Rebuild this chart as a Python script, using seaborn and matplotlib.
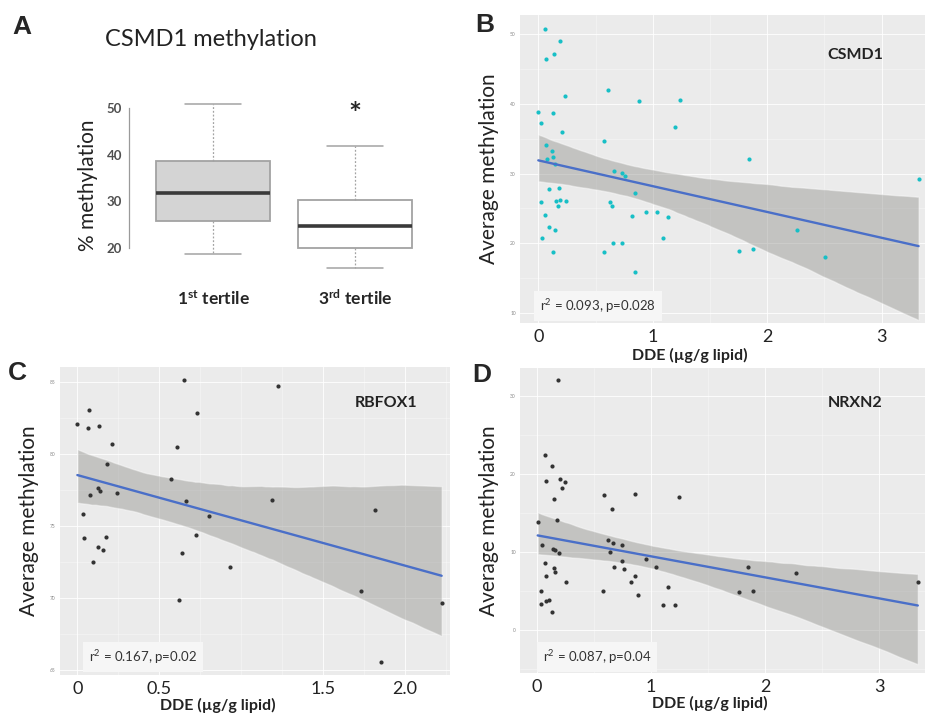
import matplotlib
matplotlib.use("Agg")
import matplotlib.pyplot as plt
from matplotlib.ticker import AutoMinorLocator
import numpy as np
import pandas as pd
import seaborn as sns

# panel A: five-number summaries (min, q1, median, q3, max)
tertile_labels = [r"1$^{\mathbf{st}}$ tertile", r"3$^{\mathbf{rd}}$ tertile"]
tertile1 = [18.6, 25.8, 31.7, 38.6, 50.8]
tertile3 = [15.8, 19.9, 24.7, 30.3, 41.9]

# panel B: CSMD1
csmd1_dde = [0.058, 0.190, 0.137, 0.067, 0.233, 0.609, 0.880, 1.239, 0.0, 0.128,
             0.026, 1.195, 0.207, 0.574, 0.067, 0.122, 0.128, 0.073, 0.146, 1.843,
             0.665, 0.735, 0.755, 3.324, 0.090, 0.178, 0.845, 0.026, 0.190, 0.152,
             0.242, 0.169, 0.624, 0.644, 0.055, 0.816, 0.945, 1.035, 1.137, 0.093,
             0.143, 2.259, 0.032, 1.093, 0.656, 0.732, 0.125, 0.574, 1.755, 1.878,
             2.504, 0.845]
csmd1_meth = [50.76, 49.08, 47.26, 46.40, 41.13, 41.99, 40.41, 40.56, 38.83, 38.69,
              37.30, 36.68, 35.91, 34.62, 34.09, 33.18, 32.32, 32.03, 31.36, 32.08,
              30.40, 30.02, 29.68, 29.20, 27.77, 27.86, 27.15, 25.85, 26.24, 26.04,
              26.09, 25.33, 25.90, 25.28, 24.08, 23.94, 24.46, 24.42, 23.70, 22.36,
              21.93, 21.88, 20.73, 20.68, 20.06, 20.06, 18.76, 18.76, 18.91, 19.10,
              17.95, 15.89]

# panel C: RBFOX1
rbfox1_dde = [0.649, 1.223, 0.071, 0.728, 0.0, 0.065, 0.130, 0.210, 0.606, 0.183,
              0.570, 0.124, 0.138, 0.077, 0.244, 0.661, 1.186, 1.819, 0.806, 0.035,
              0.039, 0.173, 0.724, 0.126, 0.155, 0.639, 0.096, 0.932, 1.729, 0.623,
              2.224, 1.851]
rbfox1_meth = [85.12, 84.70, 83.08, 82.85, 82.06, 81.81, 81.97, 80.70, 80.45, 79.29,
               78.23, 77.65, 77.44, 77.14, 77.28, 76.72, 76.79, 76.10, 75.71, 75.82,
               74.18, 74.23, 74.34, 73.53, 73.35, 73.12, 72.51, 72.14, 70.50, 69.83,
               69.67, 65.58]

# panel D: NRXN2
nrxn2_dde = [0.190, 0.073, 0.134, 0.079, 0.201, 0.248, 0.219, 0.149, 0.590, 0.858,
             1.250, 0.657, 0.009, 0.178, 0.044, 0.140, 0.158, 0.199, 0.622, 0.666,
             0.747, 0.639, 0.745, 0.955, 0.677, 0.768, 1.045, 1.854, 0.070, 0.079,
             0.155, 0.164, 2.272, 0.257, 0.829, 0.858, 3.337, 0.038, 0.584, 1.769,
             1.895, 1.150, 0.891, 0.041, 0.085, 0.108, 1.109, 1.215, 0.134]
nrxn2_meth = [32.05, 22.44, 20.94, 19.02, 19.32, 18.93, 18.16, 16.75, 17.31, 17.39,
              17.01, 15.51, 13.80, 14.10, 10.90, 10.34, 10.26, 9.83, 11.50, 11.07,
              10.85, 9.91, 8.76, 9.06, 8.08, 7.82, 8.08, 7.99, 8.50, 6.88,
              7.86, 7.35, 7.31, 6.07, 6.07, 6.88, 6.07, 4.96, 4.96, 4.79,
              4.96, 5.51, 4.44, 3.29, 3.63, 3.76, 3.16, 3.16, 2.31]

sns.set_style("white")
plt.rcParams["font.family"] = ["Lato", "DejaVu Sans"]
plt.rcParams["mathtext.fontset"] = "custom"
plt.rcParams["mathtext.rm"] = "Lato"
plt.rcParams["mathtext.bf"] = "Lato:bold"
plt.rcParams["mathtext.it"] = "Lato:italic"

W, H = 925, 715
fig = plt.figure(figsize=(W / 100, H / 100), dpi=100)
fig.patch.set_facecolor("white")


def box(l, t, r, b):
    return [l / W, 1 - b / H, (r - l) / W, (b - t) / H]


def ftext(x, y, s, **kw):
    fig.text(x / W, 1 - y / H, s, **kw)


# ---- A: boxplot
axA = fig.add_axes(box(129, 95, 440, 275))
dfA = pd.DataFrame({
    "group": [tertile_labels[0]] * len(tertile1) + [tertile_labels[1]] * len(tertile3),
    "value": tertile1 + tertile3,
})
sns.boxplot(data=dfA, x="group", y="value", hue="group", palette=["#d4d4d4", "white"],
            legend=False, width=0.8, linecolor="#a3a3a3", linewidth=1.3, whis=1.5,
            medianprops=dict(color="#3a3a3a", linewidth=2.6),
            whiskerprops=dict(linestyle=(0, (1.5, 1.5)), linewidth=0.9),
            capprops=dict(linewidth=1.1), ax=axA)
axA.set_xlim(-0.593, 1.60)
axA.set_ylim(14.2, 52.8)
axA.set_yticks([20, 30, 40, 50])
for s in ["top", "right", "bottom"]:
    axA.spines[s].set_visible(False)
axA.spines["left"].set_bounds(20, 50)
axA.spines["left"].set_color("#9a9a9a")
axA.spines["left"].set_linewidth(0.9)
axA.tick_params(axis="y", length=3, width=0.8, color="#9a9a9a", labelsize=9.5,
                labelcolor="#505050", pad=2)
for lab in axA.get_yticklabels():
    lab.set_fontweight("bold")
axA.tick_params(axis="x", length=0, pad=10, labelsize=12.5)
for lab in axA.get_xticklabels():
    lab.set_fontweight("bold")
axA.set_xlabel("")
axA.set_ylabel("% methylation", fontsize=15, color="#222222", labelpad=6)
axA.text(1, 48.5, "*", ha="center", va="center", fontsize=22, fontweight="bold")
ftext(105, 40, "CSMD1 methylation", fontsize=17, color="#222222", va="center")


# ---- B, C, D: ggplot-like scatter with linear fit
def scatter_panel(rect, x, y, color, xlim, ylim, xticks, xticklabels, yticks,
                  gene, gene_xy, stat, stat_xy):
    ax = fig.add_axes(rect)
    ax.set_facecolor("#ebebeb")
    sns.regplot(x=np.array(x), y=np.array(y), ax=ax, color=color, ci=95,
                n_boot=2000, seed=3,
                scatter_kws=dict(s=9, linewidths=0, alpha=1, zorder=3),
                line_kws=dict(color="#4a6fc8", lw=1.7, zorder=4))
    band = ax.collections[-1]
    band.set_facecolor("#8c8c88")
    band.set_alpha(0.42)
    band.set_zorder(2)
    ax.set_xlim(*xlim)
    ax.set_ylim(*ylim)
    ax.set_xticks(xticks)
    ax.set_xticklabels(xticklabels)
    ax.set_yticks(yticks)
    ax.xaxis.set_minor_locator(AutoMinorLocator(2))
    ax.yaxis.set_minor_locator(AutoMinorLocator(2))
    ax.set_axisbelow(True)
    ax.grid(which="major", color="white", lw=0.8, alpha=0.85)
    ax.grid(which="minor", color="white", lw=0.4, alpha=0.6)
    for s in ax.spines.values():
        s.set_visible(False)
    ax.tick_params(axis="x", which="both", length=0, labelsize=13, labelcolor="#222222", pad=4)
    ax.tick_params(axis="y", which="major", length=2, width=0.6, color="#999999",
                   labelsize=3.5, labelcolor="#8a8a8a", pad=1)
    ax.tick_params(axis="y", which="minor", length=0)
    ax.set_xlabel("")
    ax.set_ylabel("Average methylation", fontsize=15, color="#222222", labelpad=8)
    ftext(gene_xy[0], gene_xy[1], gene, fontsize=11.5, fontweight="bold",
          ha="center", va="center", color="#222222")
    ftext(stat_xy[0], stat_xy[1], stat, fontsize=9.5, color="#333333", va="center",
          bbox=dict(boxstyle="square,pad=0.45", facecolor="#f6f6f6", edgecolor="none"))
    return ax


axB = scatter_panel(box(520, 15, 925, 323), csmd1_dde, csmd1_meth, "#17bfc6",
                    (-0.16, 3.38), (8.5, 52.8), [0, 1, 2, 3], ["0", "1", "2", "3"],
                    [10, 20, 30, 40, 50], "CSMD1", (855, 55),
                    r"r$^2$ = 0.093, p=0.028", (540, 306))
axC = scatter_panel(box(60, 367, 450, 675), rbfox1_dde, rbfox1_meth, "#333333",
                    (-0.106, 2.275), (64.65, 86.04), [0, 0.5, 1.5, 2.0],
                    ["0", "0.5", "1.5", "2.0"], [65, 70, 75, 80, 85], "RBFOX1", (386, 403),
                    r"r$^2$ = 0.167, p=0.02", (89, 657))
axD = scatter_panel(box(520, 368, 925, 673), nrxn2_dde, nrxn2_meth, "#333333",
                    (-0.146, 3.40), (-5.56, 33.55), [0, 1, 2, 3], ["0", "1", "2", "3"],
                    [0, 10, 20, 30], "NRXN2", (855, 403),
                    r"r$^2$ = 0.087, p=0.04", (543, 657))

for xy in [(690, 355), (218, 705), (710, 703)]:
    ftext(xy[0], xy[1], "DDE (\u00b5g/g lipid)", fontsize=11.5, fontweight="bold",
          ha="center", va="center", color="#222222")

for letter, xy in [("A", (22, 27)), ("B", (485, 25)), ("C", (17, 373)), ("D", (482, 375))]:
    ftext(xy[0], xy[1], letter, fontsize=19, fontweight="bold", family="Liberation Sans",
          ha="center", va="center")

fig.savefig("out.png", dpi=100, facecolor="white")
